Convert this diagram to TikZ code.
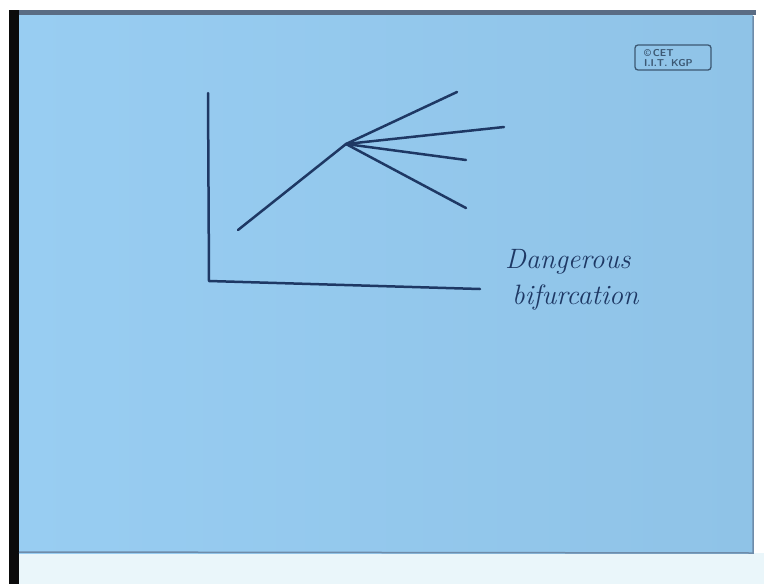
\documentclass[tikz,border=0pt]{standalone}
\definecolor{ink}{HTML}{1E3864}
\definecolor{panelL}{HTML}{98CDF2}
\definecolor{panelR}{HTML}{8FC3E7}
\definecolor{frame}{HTML}{0B0B0B}
\definecolor{topstrip}{HTML}{5A6C84}
\definecolor{belowc}{HTML}{EAF6FA}
\definecolor{edgec}{HTML}{6E8CAA}
\definecolor{logoc}{HTML}{3C5873}
\tikzset{
  pen/.style={draw=ink, line width=2.5pt, line cap=round, line join=round},
  hand/.style={text=ink, font=\fontsize{28}{30}\selectfont\itshape, inner sep=0pt},
  logotext/.style={text=logoc, font=\sffamily\bfseries\fontsize{10}{11}\selectfont, inner sep=0pt, anchor=west},
  logobox/.style={draw=logoc, line width=1.3pt, rounded corners=3pt}
}
\begin{document}
\begin{tikzpicture}[x=1pt,y=-1pt]
\useasboundingbox (0,0) rectangle (764,584);
\fill[white] (0,0) rectangle (764,584);
% board
\fill[belowc] (19,553) rectangle (764,584);
\shade[left color=panelL, right color=panelR] (19,15) rectangle (753,553);
\fill[topstrip] (19,10) rectangle (756,15);
\fill[frame] (9,10) rectangle (19,584);
\draw[edgec, line width=1.5pt] (19,552) -- (753,553) -- (753,16);
% logo
\draw[logobox] (635,45) rectangle (711,70);
\node[logotext] (logo1) at (644,53.5) {\textcopyright\,CET};
\node[logotext] (logo2) at (644,63) {I.I.T. KGP};
% axes
\coordinate (ytop) at (208,93);
\coordinate (orig) at (209,281);
\coordinate (xend) at (480,289);
\draw[pen] (ytop) -- (orig) -- (xend);
% bifurcation
\coordinate (start) at (238,230);
\coordinate (bif) at (346,144);
\coordinate (b1) at (457,92);
\coordinate (b2) at (504,127);
\coordinate (b3) at (466,160);
\coordinate (b4) at (466,208);
\draw[pen] (start) -- (bif);
\draw[pen] (bif) -- (b1);
\draw[pen] (bif) -- (b2);
\draw[pen] (bif) -- (b3);
\draw[pen] (bif) -- (b4);
% label
\node[hand, anchor=base west] (l1) at (505,268) {Dangerous};
\node[hand, anchor=base west] (l2) at (512,304) {bifurcation};
\end{tikzpicture}
\end{document}
